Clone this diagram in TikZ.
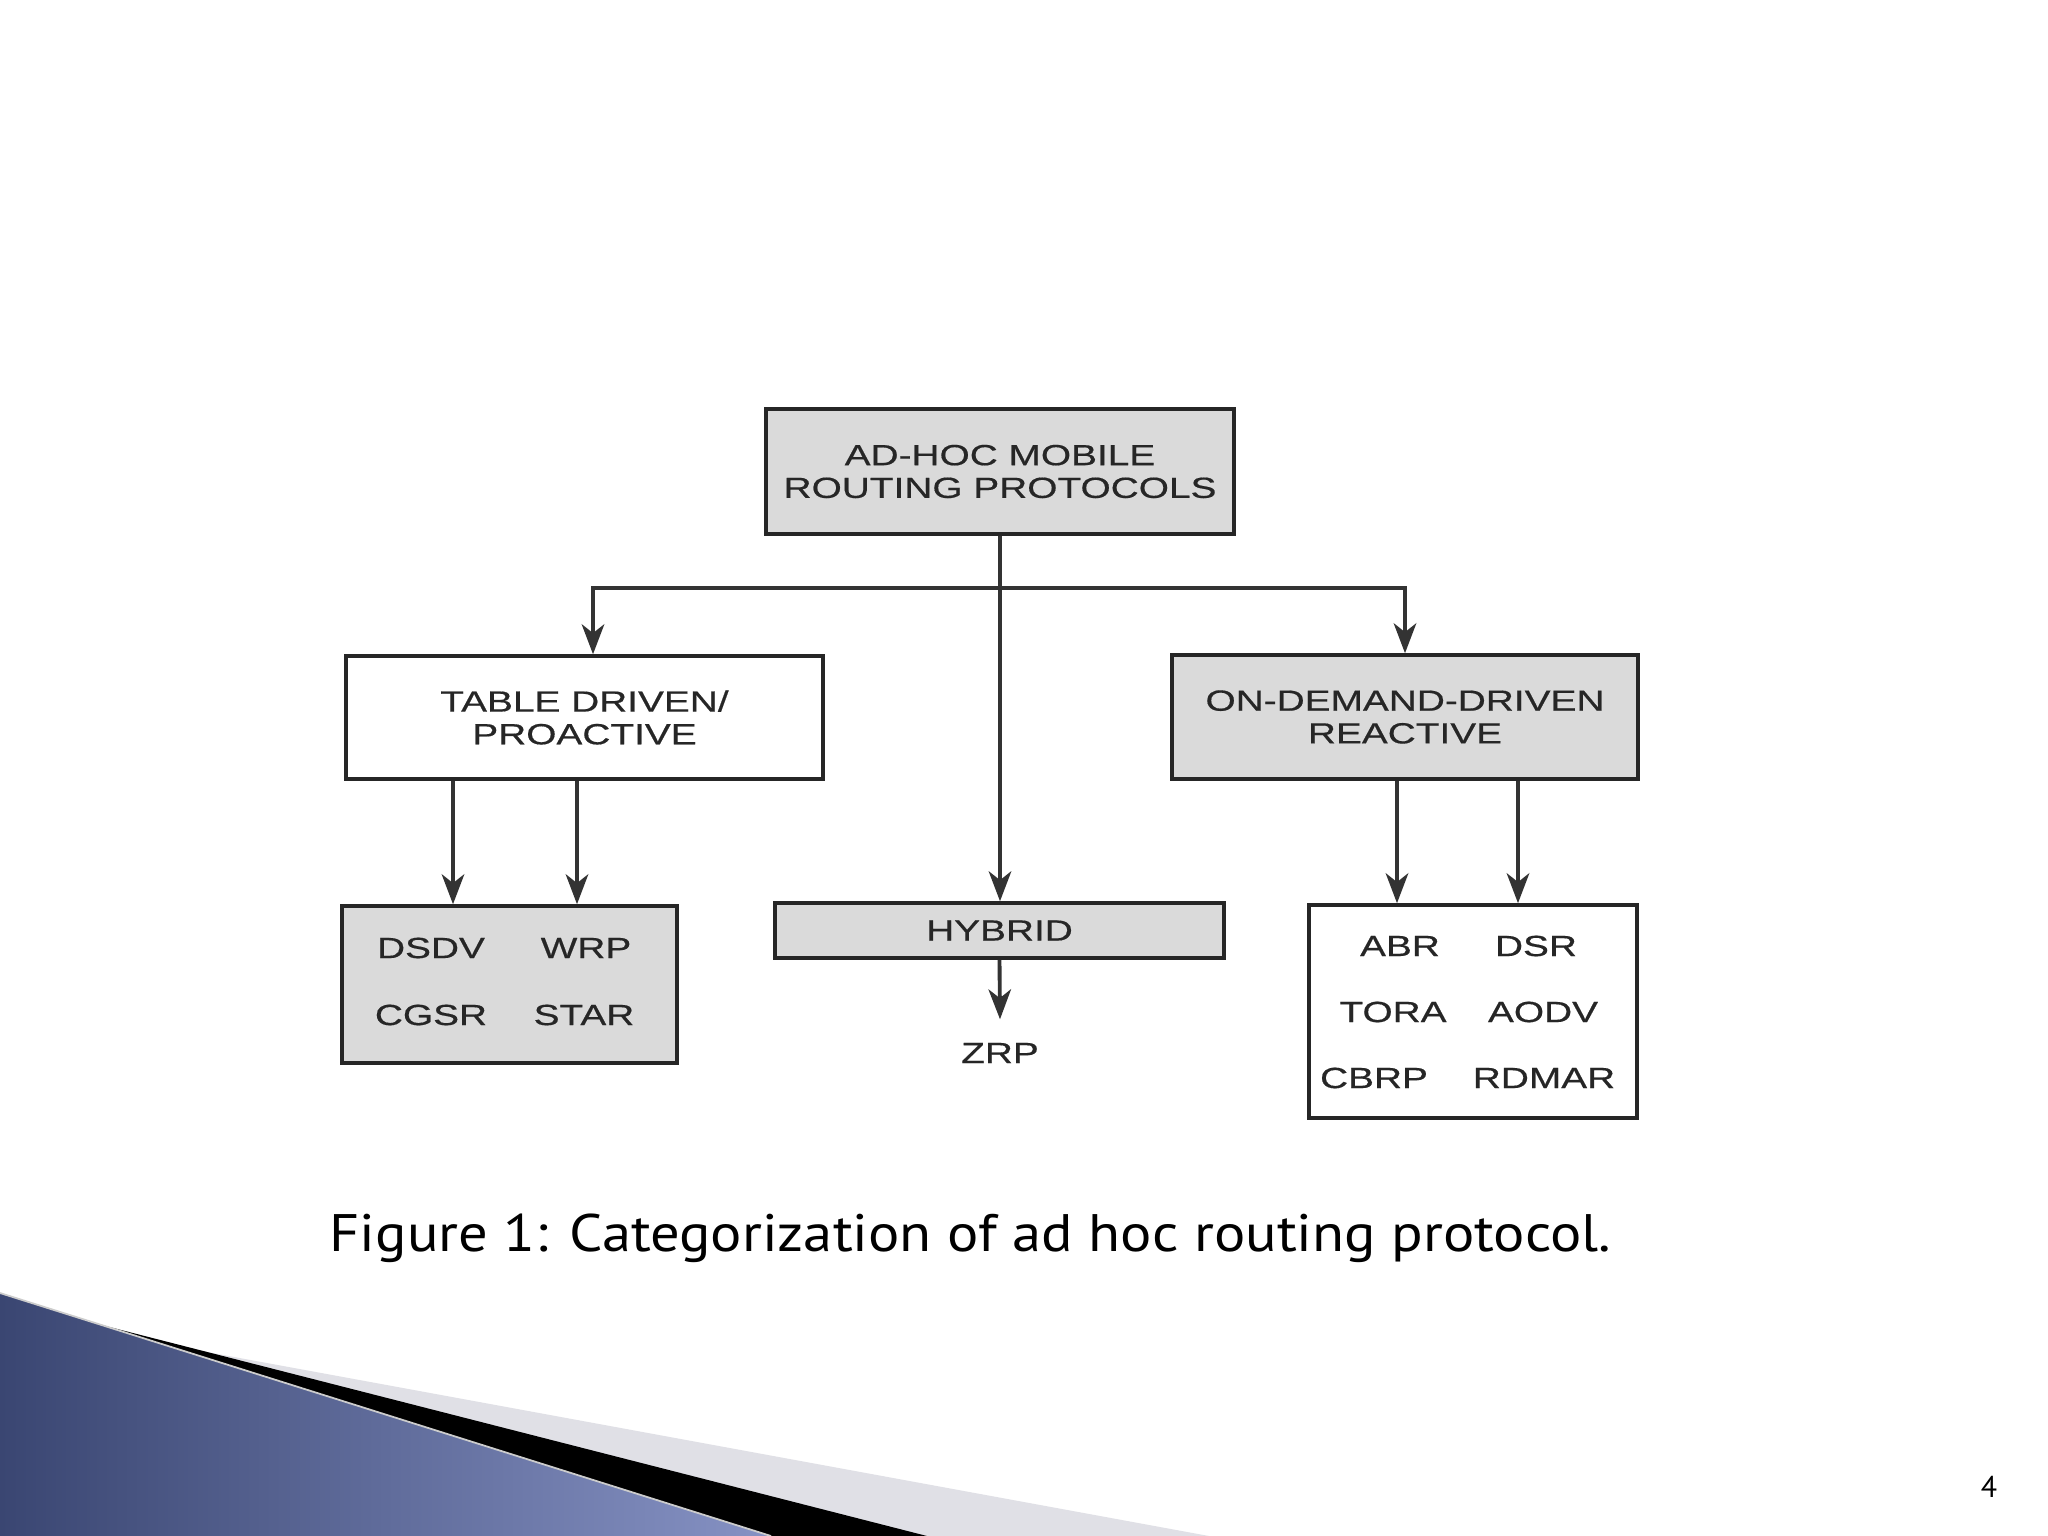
\documentclass[tikz,border=0pt]{standalone}
\usepackage{fontspec}
\setmainfont{Liberation Sans}
\newfontfamily\boxfont[FakeStretch=1.33,FakeBold=0.5]{Liberation Sans}
\newfontfamily\capfont[FakeStretch=1.11]{PT Sans}
\newfontfamily\numfont{PT Sans}
\usetikzlibrary{arrows.meta}

\definecolor{navydark}{HTML}{3A4672}
\definecolor{navylight}{HTML}{8692C4}
\definecolor{stripegrey}{HTML}{E0E0E6}
\definecolor{boxgrey}{HTML}{DADADA}

\tikzset{
 box/.style={draw=black!85, line width=1pt, fill=#1, inner sep=0pt, align=center,
   text=black!85, font=\boxfont\fontsize{8.3}{9.3}\selectfont},
 box/.default=boxgrey,
 lbl/.style={inner sep=0pt, text=black!85, font=\boxfont\fontsize{8.3}{9.3}\selectfont},
 arr/.style={line width=1.1pt, black!80, -{Stealth[length=8.5pt,width=6.4pt,inset=2.5pt]}}
}

\begin{document}
\begin{tikzpicture}[x=0.01cm, y=-0.01cm]
\useasboundingbox[fill=white] (0,0) rectangle (2048,1536);
% corner swoosh
\fill[stripegrey] (0,1314) -- (1209,1536) -- (0,1536) -- cycle;
\fill[black] (0,1299) -- (927,1536) -- (0,1536) -- cycle;
\shade[left color=navydark, right color=navylight] (0,1293) -- (771,1536) -- (0,1536) -- cycle;
\draw[line width=0.5pt, black!20] (0,1293) -- (771,1536);

% boxes
\node[box, minimum width=4.68cm, minimum height=1.25cm] (root) at (1000,471.5) {AD-HOC MOBILE\\ROUTING PROTOCOLS};
\node[box=white, minimum width=4.77cm, minimum height=1.23cm] (table) at (584.5,717.5) {TABLE DRIVEN/\\PROACTIVE};
\node[box, minimum width=4.66cm, minimum height=1.24cm] (demand) at (1405,717) {ON-DEMAND-DRIVEN\\REACTIVE};
\node[box, minimum width=4.49cm, minimum height=0.55cm] (hybrid) at (999.5,930.5) {HYBRID};
\node[box, minimum width=3.35cm, minimum height=1.57cm] (pro) at (509.5,984.5) {};
\node[box=white, minimum width=3.28cm, minimum height=2.13cm] (re) at (1473,1011.5) {};

\foreach \t/\x/\y in {DSDV/431/948, WRP/586/948, CGSR/431/1015, STAR/584/1015,
  ABR/1400/946, DSR/1536/946, TORA/1393/1012, AODV/1543/1012, CBRP/1374/1078, RDMAR/1544/1078}
 \node[lbl] (\t) at (\x,\y) {\t};
\node[lbl] (zrp) at (1000,1053) {ZRP};

% connectors
\coordinate (split) at (1000,588);
\draw[arr] (root.south) -- (root.south |- hybrid.north);
\draw[arr] (split) -| ([xshift=0.085cm]table.north);
\draw[arr] (split) -| (demand.north);
\foreach \x in {453,577}
 \draw[arr] (table.south -| \x,0) -- (pro.north -| \x,0);
\foreach \x in {1397,1518}
 \draw[arr] (demand.south -| \x,0) -- (re.north -| \x,0);
\draw[arr] (hybrid.south) -- ([yshift=0.23cm]zrp.north);

\node[anchor=base west, inner sep=0pt, font=\capfont\fontsize{15}{18}\selectfont] (cap) at (329,1251)
 {Figure 1: Categorization of ad hoc routing protocol.};
\node[inner sep=0pt, font=\numfont\fontsize{8.5}{10}\selectfont] (pageno) at (1989,1487) {4};
\end{tikzpicture}
\end{document}
